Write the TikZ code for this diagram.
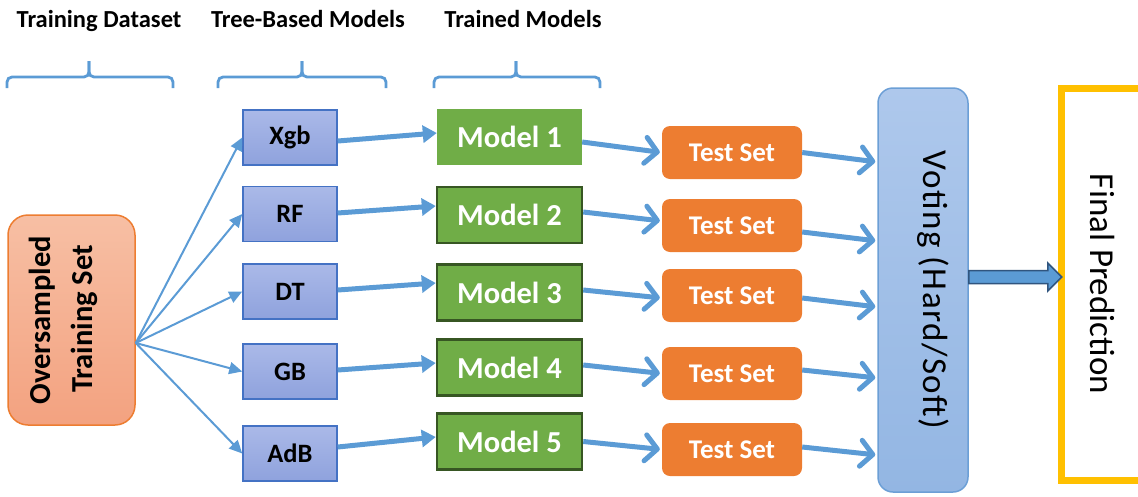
\documentclass[tikz,border=0pt]{standalone}
\usepackage{fontspec}
\setmainfont{Carlito}
\newfontfamily\votefont[LetterSpace=4]{Carlito}
\usetikzlibrary{arrows.meta,calc}
\definecolor{arrowblue}{HTML}{5B9BD5}
\definecolor{treeA}{HTML}{AAB9E8}
\definecolor{treeB}{HTML}{8FA2DD}
\definecolor{treeborder}{HTML}{4472C4}
\definecolor{osA}{HTML}{F7BFA4}
\definecolor{osB}{HTML}{F3A280}
\definecolor{osborder}{HTML}{ED7D31}
\definecolor{modelgreen}{HTML}{70AD47}
\definecolor{modelborder}{HTML}{375623}
\definecolor{tsorange}{HTML}{ED7D31}
\definecolor{voteA}{HTML}{AEC8EC}
\definecolor{voteB}{HTML}{93B6E3}
\definecolor{voteborder}{HTML}{6C9FD6}
\definecolor{finalborder}{HTML}{FFC000}
\definecolor{bigborder}{HTML}{30557F}
\begin{document}
\begin{tikzpicture}[x=1pt,y=-1pt,
  hdr/.style={font=\fontsize{24.5}{28}\selectfont\bfseries, anchor=base, inner sep=0pt},
  brace/.style={draw=arrowblue, line width=2.8pt, rounded corners=5pt},
  osbox/.style={draw=osborder, line width=1.5pt, top color=osA, bottom color=osB, rounded corners=20pt, minimum width=127pt, minimum height=210pt, inner sep=0pt},
  ostext/.style={rotate=90, anchor=base, inner sep=0pt, font=\fontsize{30.5}{36}\selectfont\bfseries},
  treebox/.style={draw=treeborder, line width=1.5pt, top color=treeA, bottom color=treeB, minimum width=94pt, minimum height=55pt, inner sep=0pt, font=\fontsize{26.5}{30}\selectfont\bfseries},
  modelbox/.style={fill=modelgreen, minimum width=145pt, minimum height=56pt, inner sep=0pt, text=white, font=\fontsize{30.5}{34}\selectfont\bfseries},
  modeldark/.style={modelbox, draw=modelborder, line width=2.5pt},
  testbox/.style={fill=tsorange, rounded corners=8pt, minimum width=140pt, minimum height=53pt, inner sep=0pt, text=white, font=\fontsize{27}{30}\selectfont\bfseries},
  votebox/.style={draw=voteborder, line width=1.5pt, top color=voteA, bottom color=voteB, rounded corners=15pt, minimum width=90pt, minimum height=404pt, inner sep=0pt},
  votetext/.style={rotate=-90, anchor=base, inner sep=0pt, font=\fontsize{35}{40}\votefont},
  finalbox/.style={draw=finalborder, line width=7pt, fill=white, minimum width=80pt, minimum height=391.5pt, inner sep=0pt},
  finaltext/.style={rotate=-90, anchor=base, inner sep=0pt, font=\fontsize{35}{40}\selectfont},
  fanarrow/.style={draw=arrowblue, line width=2pt, -{Triangle[length=13pt,width=12pt]}},
  thickarrow/.style={draw=arrowblue, line width=5pt, -{Triangle[length=14pt,width=17pt]}},
  chev/.style={draw=arrowblue, line width=5pt, shorten >=2pt, -{Straight Barb[length=12pt,width=26pt,round]}},
  bigarrow/.style={draw=bigborder, line width=1.5pt, fill=arrowblue}
]
\useasboundingbox (0,0) rectangle (1138,496);

% headers
\node[hdr] (h1) at (99,27) {Training Dataset};
\node[hdr] (h2) at (308,27) {Tree-Based Models};
\node[hdr] (h3) at (523,27) {Trained Models};

% braces
\draw[brace] (7,88) |- (89,77) -- (89,61);
\draw[brace] (173,88) |- (89,77) -- (89,61);
\draw[brace] (218,88) |- (302,77) -- (302,61);
\draw[brace] (386,88) |- (302,77) -- (302,61);
\draw[brace] (434,88) |- (516,77) -- (516,61);
\draw[brace] (600,88) |- (516,77) -- (516,61);

% training set
\node[osbox] (os) at (71.5,320) {};
\node[ostext] (os1) at (50,320) {Oversampled};
\node[ostext] (os2) at (92,319) {Training Set};
\coordinate (fan) at ($(os.east)+(0,23)$);

% tree-based models
\node[treebox] (xgb) at (290,137.5) {Xgb};
\node[treebox] (rf)  at (290,214) {RF};
\node[treebox] (dt)  at (290,291.5) {DT};
\node[treebox] (gb)  at (290,371.5) {GB};
\node[treebox] (adb) at (290,453.5) {AdB};

% trained models
\node[modelbox]  (m1) at (509.5,137) {Model 1};
\node[modeldark] (m2) at (509.5,215) {Model 2};
\node[modeldark] (m3) at (509.5,292.5) {Model 3};
\node[modeldark] (m4) at (509.5,367.5) {Model 4};
\node[modeldark] (m5) at (509.5,441.5) {Model 5};

% test sets
\node[testbox] (t1) at (732,152.5) {Test Set};
\node[testbox] (t2) at (732,225.5) {Test Set};
\node[testbox] (t3) at (732,295.5) {Test Set};
\node[testbox] (t4) at (732,373.5) {Test Set};
\node[testbox] (t5) at (732,449.5) {Test Set};

% voting and final
\node[votebox] (vote) at (923,290) {};
\node[votetext] (votelbl) at (923,290) {Voting (Hard/Soft)};
\node[finalbox] (final) at (1101,284.25) {};
\node[finaltext] (finallbl) at (1090,284) {Final Prediction};

% fan arrows
\foreach \t in {xgb,rf,dt,gb,adb}{
  \draw[fanarrow] (fan) -- (\t.west);
}

% tree -> model
\draw[thickarrow] ([yshift=-3.5pt]xgb.east) -- ([yshift=4pt]m1.west);
\draw[thickarrow] ([yshift=1pt]rf.east) -- ([yshift=9pt]m2.west);
\draw[thickarrow] ([yshift=1.5pt]dt.east) -- ([yshift=9.5pt]m3.west);
\draw[thickarrow] ([yshift=1.5pt]gb.east) -- ([yshift=4.5pt]m4.west);
\draw[thickarrow] ([yshift=6.5pt]adb.east) -- ([yshift=4.5pt]m5.west);

% model -> test
\draw[chev] ([yshift=-5pt]m1.east) -- (t1.west);
\draw[chev] ([yshift=3pt]m2.east) -- ([yshift=4.5pt]t2.west);
\draw[chev] ([yshift=2.5pt]m3.east) -- ([yshift=-2.5pt]t3.west);
\draw[chev] ([yshift=2.5pt]m4.east) -- (t4.west);
\draw[chev] (m5.east) -- (t5.west);

% test -> voting
\draw[chev] (t1.east) -- ([yshift=128pt]vote.west);
\draw[chev] ([yshift=-6.5pt]t2.east) -- ([yshift=49pt]vote.west);
\draw[chev] ([yshift=-2.5pt]t3.east) -- ([yshift=-17pt]vote.west);
\draw[chev] ([yshift=3.5pt]t4.east) -- ([yshift=-88pt]vote.west);
\draw[chev] ([yshift=2.5pt]t5.east) -- ([yshift=-165pt]vote.west);

% block arrow voting -> final
\coordinate (ba) at ($(vote.east)+(0,-13)$);
\draw[bigarrow] (ba) +(0,-6.5) -- +(79,-6.5) -- +(79,-14) -- +(93,0) -- +(79,14) -- +(79,6.5) -- +(0,6.5) -- cycle;
\end{tikzpicture}
\end{document}
